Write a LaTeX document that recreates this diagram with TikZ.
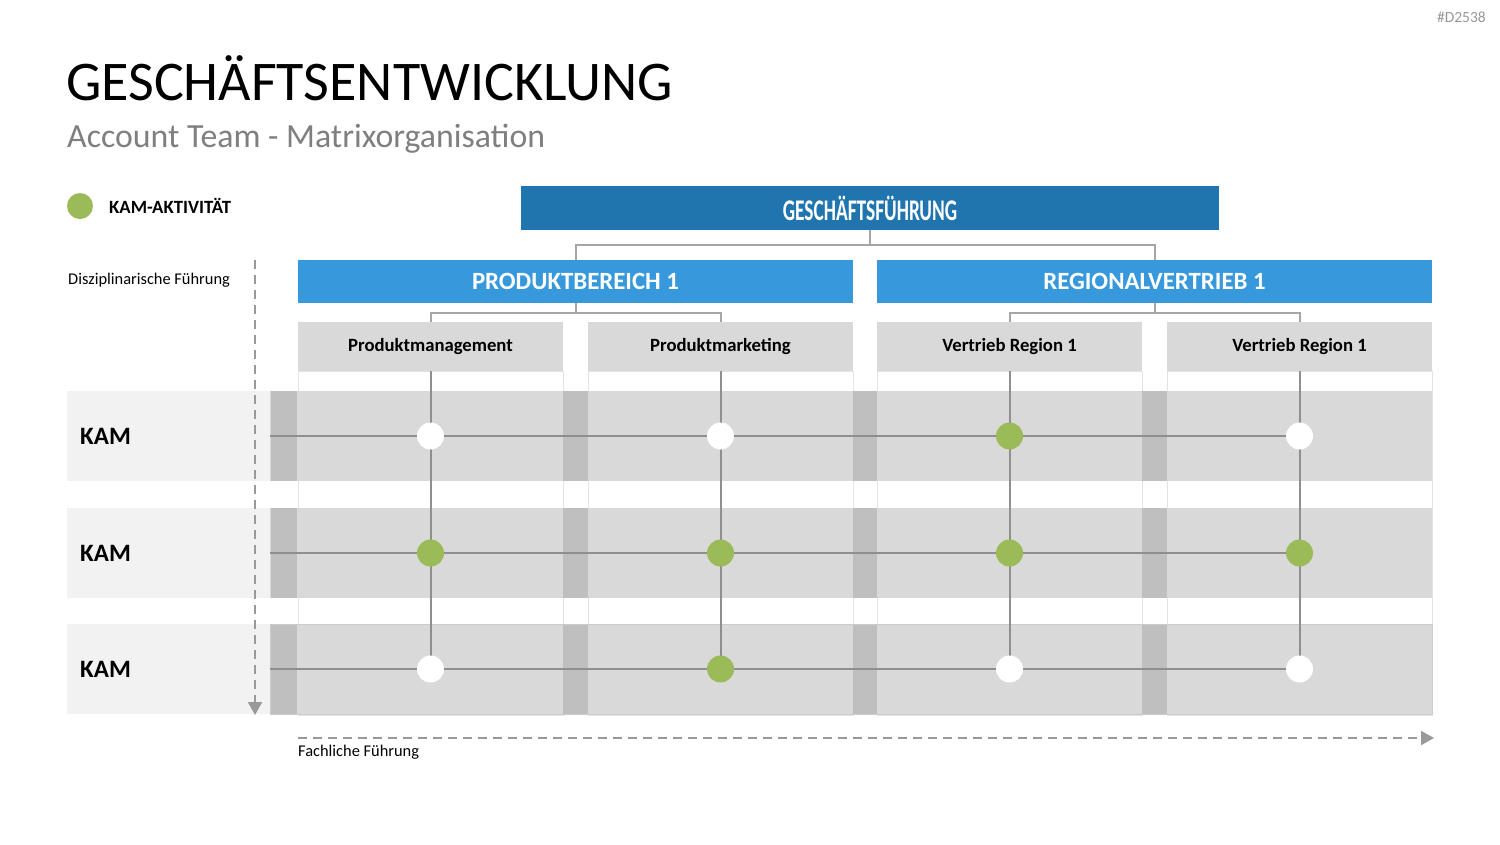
\documentclass[tikz,border=0pt]{standalone}
\usepackage{fontspec}
\setmainfont{Carlito}
\usetikzlibrary{arrows.meta,calc}
\definecolor{gfblue}{HTML}{2075AF}
\definecolor{pbblue}{HTML}{3799DB}
\definecolor{bandgray}{HTML}{D9D9D9}
\definecolor{stripgray}{HTML}{BFBFBF}
\definecolor{panelgray}{HTML}{F2F2F2}
\definecolor{bordergray}{HTML}{E3E3E3}
\definecolor{linegray}{HTML}{8F8F8F}
\definecolor{treegray}{HTML}{A6A6A6}
\definecolor{arrowgray}{HTML}{999999}
\definecolor{kamgreen}{HTML}{9BBB59}
\definecolor{subgray}{HTML}{7F7F7F}
\begin{document}
\begin{tikzpicture}[x=1pt,y=-1pt,
  box/.style={rectangle, inner sep=0pt, outer sep=0pt},
  bluebox/.style={box, text=white, font=\bfseries\fontsize{24.8}{26}\selectfont},
  hdrbox/.style={box, fill=bandgray, minimum width=265pt, minimum height=49pt, font=\bfseries\fontsize{18.7}{20}\selectfont},
  colbody/.style={box, fill=white, draw=bordergray, line width=0.8pt, minimum width=265pt, minimum height=344pt},
  band/.style={box, fill=bandgray, minimum width=1162pt, minimum height=90pt},
  strip/.style={box, fill=stripgray, minimum width=26pt, minimum height=90pt},
  panel/.style={box, fill=panelgray, minimum width=203pt, minimum height=90pt},
  kamlabel/.style={font=\bfseries\fontsize{25}{27}\selectfont, anchor=west, inner sep=0pt},
  tree/.style={draw=treegray, line width=2pt},
  grid/.style={draw=linegray, line width=2pt},
  dotw/.style={circle, fill=white, minimum size=27pt, inner sep=0pt},
  dotg/.style={circle, fill=kamgreen, minimum size=27pt, inner sep=0pt},
  dasharrow/.style={draw=arrowgray, line width=2pt, dash pattern=on 9pt off 6pt, -{Triangle[width=14pt,length=13pt]}},
  smalltext/.style={font=\fontsize{16.4}{18}\selectfont, inner sep=0pt}
]
\useasboundingbox[fill=white] (0,0) rectangle (1500,844);

% titles
\node[anchor=north east, inner sep=0pt, text=arrowgray, font=\fontsize{15.5}{16}\selectfont] (code) at (1486,12) {\#D2538};
\node[anchor=base west, inner sep=0pt, font=\fontsize{56}{58}\selectfont] (title) at (66,100) {GESCHÄFTSENTWICKLUNG};
\node[anchor=base west, inner sep=0pt, text=subgray, font=\fontsize{33.8}{35}\selectfont] (subtitle) at (67,147) {Account Team - Matrixorganisation};

% legend
\node[dotg, minimum size=26pt] (leg) at (80,206) {};
\node[anchor=west, inner sep=0pt, font=\bfseries\fontsize{18.7}{20}\selectfont] (legtext) at (109,206) {KAM-AKTIVITÄT};
\node[smalltext, anchor=west] (disz) at (68,280.5) {Disziplinarische Führung};

% tree
\node[bluebox, fill=gfblue, minimum width=698pt, minimum height=44pt] (gf) at (870,208)
  {\scalebox{0.645}[1]{\fontsize{30}{32}\selectfont GESCHÄFTSFÜHRUNG}};
\node[bluebox, fill=pbblue, minimum width=555pt, minimum height=43pt] (pb) at (575.5,281.5) {PRODUKTBEREICH 1};
\node[bluebox, fill=pbblue, minimum width=555pt, minimum height=43pt] (rv) at (1154.5,281.5) {REGIONALVERTRIEB 1};

% column bodies
\node[colbody] (b1) at (430.5,543) {};
\node[colbody] (b2) at (720.5,543) {};
\node[colbody] (b3) at (1009.5,543) {};
\node[colbody] (b4) at (1299.5,543) {};

% column headers
\node[hdrbox] (h1) at (430.5,346.5) {Produktmanagement};
\node[hdrbox] (h2) at (720.5,346.5) {Produktmarketing};
\node[hdrbox] (h3) at (1009.5,346.5) {Vertrieb Region 1};
\node[hdrbox] (h4) at (1299.5,346.5) {Vertrieb Region 1};

\draw[tree] (gf.south) -- ++(0,15) -| (pb.north);
\draw[tree] (gf.south) -- ++(0,15) -| (rv.north);
\draw[tree] (pb.south) -- ++(0,10) -| (h1.north);
\draw[tree] (pb.south) -- ++(0,10) -| (h2.north);
\draw[tree] (rv.south) -- ++(0,10) -| (h3.north);
\draw[tree] (rv.south) -- ++(0,10) -| (h4.north);

% rows
\foreach \r/\y in {1/436,2/553,3/669}{
  \node[panel] (p\r) at (168.5,\y) {};
  \node[band] (row\r) at (851,\y) {};
  \node[strip] (s\r a) at (284,\y) {};
  \node[strip, minimum width=25pt] (s\r b) at (575.5,\y) {};
  \node[strip, minimum width=24pt] (s\r c) at (865,\y) {};
  \node[strip, minimum width=25pt] (s\r d) at (1154.5,\y) {};
  \node[kamlabel] (k\r) at (80,\y) {KAM};
  \coordinate (l\r) at (270,\y);
}
\draw[draw=stripgray!80, line width=1pt] (row3.north west) rectangle (row3.south east);

% dots positions
\foreach \r/\y in {1/436,2/553,3/669}{
  \foreach \c/\x in {1/430.5,2/720.5,3/1009.5,4/1299.5}{
    \coordinate (c\r\c) at (\x,\y);
  }
}
% grid lines
\foreach \r in {1,2,3}{ \draw[grid] (l\r) -- (c\r4); }
\foreach \c in {1,2,3,4}{ \draw[grid] (h\c.south) -- (c3\c); }

% dots
\node[dotw] (d11) at (c11) {};
\node[dotw] (d12) at (c12) {};
\node[dotg] (d13) at (c13) {};
\node[dotw] (d14) at (c14) {};
\node[dotg] (d21) at (c21) {};
\node[dotg] (d22) at (c22) {};
\node[dotg] (d23) at (c23) {};
\node[dotg] (d24) at (c24) {};
\node[dotw] (d31) at (c31) {};
\node[dotg] (d32) at (c32) {};
\node[dotw] (d33) at (c33) {};
\node[dotw] (d34) at (c34) {};

% axes
\coordinate (vs) at (255,260);
\coordinate (ve) at (255,715);
\draw[dasharrow] (vs) -- (ve);
\coordinate (hs) at (298,738);
\coordinate (he) at (1434,738);
\draw[dasharrow] (hs) -- (he);
\node[smalltext, anchor=west] (fach) at (298,752) {Fachliche Führung};
\end{tikzpicture}
\end{document}
